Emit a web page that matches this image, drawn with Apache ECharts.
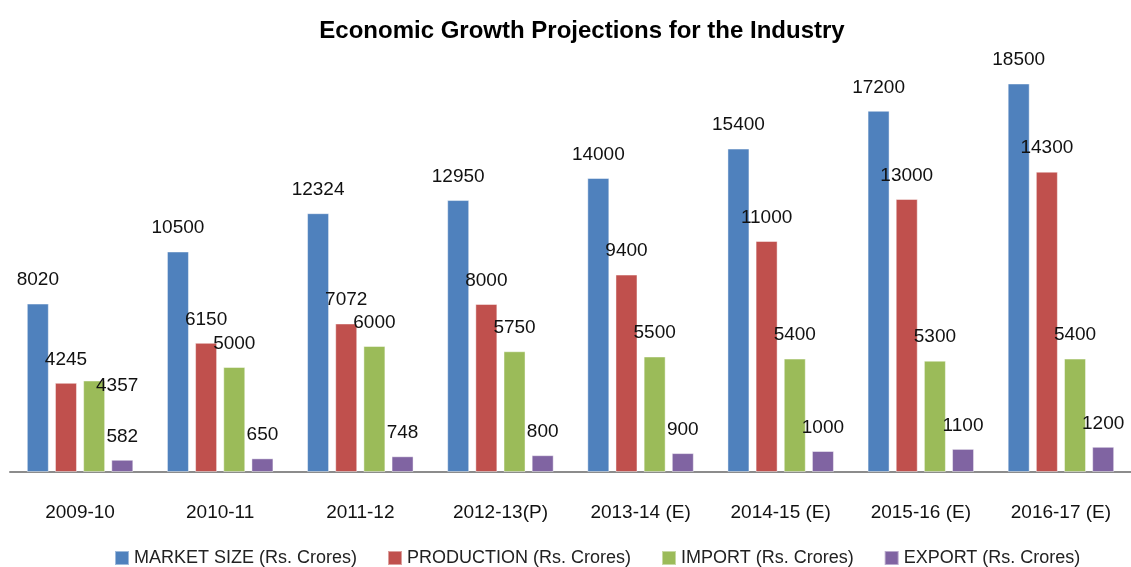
<!DOCTYPE html>
<html>
<head>
<meta charset="utf-8">
<script src="https://cdn.jsdelivr.net/npm/echarts@6/dist/echarts.min.js"></script>
<style>
  html, body { margin: 0; padding: 0; background: #fff; }
  #chart { width: 1131px; height: 567px; }
</style>
</head>
<body>
<div id="chart"></div>
<script>
// Fiscal years on the category axis
const years = ['2009-10', '2010-11', '2011-12', '2012-13(P)', '2013-14 (E)', '2014-15 (E)', '2015-16 (E)', '2016-17 (E)'];

// Values in Rs. Crores
const marketSize = [8020, 10500, 12324, 12950, 14000, 15400, 17200, 18500];
const production = [4245, 6150, 7072, 8000, 9400, 11000, 13000, 14300];
const imports    = [4357, 5000, 6000, 5750, 5500, 5400, 5300, 5400];
const exports    = [582, 650, 748, 800, 900, 1000, 1100, 1200];

const FONT = '"Liberation Sans Narrow", "Arial Narrow", "Liberation Sans", sans-serif';
const colors = ['#4F81BD', '#C0504D', '#9BBB59', '#8064A2'];

// A few labels are nudged aside so they don't collide with neighbours
const labelNudges = { IMPORT: { 0: [23, 29] } };

function makeSeries(name, values, color) {
  const key = name.split(' ')[0];
  const nudges = labelNudges[key] || {};
  return {
    name: name,
    type: 'bar',
    barWidth: 22,
    barGap: '28%',
    itemStyle: { color: color, borderColor: 'rgba(255,255,255,0.45)', borderWidth: 1 },
    label: {
      show: true,
      position: 'top',
      distance: 14,
      fontFamily: FONT,
      fontSize: 19,
      color: '#111'
    },
    data: values.map((v, i) => nudges[i] ? { value: v, label: { offset: nudges[i] } } : v)
  };
}

const chart = echarts.init(document.getElementById('chart'), null, { renderer: 'canvas' });
chart.setOption({
  animation: false,
  backgroundColor: '#fff',
  color: colors,
  title: {
    text: 'Economic Growth Projections for the Industry',
    left: 577,
    textAlign: 'center',
    top: 14,
    textStyle: { fontFamily: FONT, fontWeight: 'bold', fontSize: 24, color: '#000' }
  },
  legend: {
    left: 114,
    top: 549,
    padding: 0,
    itemWidth: 14,
    itemHeight: 14,
    itemGap: 30,
    icon: 'rect',
    textStyle: { fontFamily: FONT, fontSize: 18, color: '#222' },
    data: ['MARKET SIZE (Rs. Crores)', 'PRODUCTION (Rs. Crores)', 'IMPORT (Rs. Crores)', 'EXPORT (Rs. Crores)']
  },
  grid: { left: 10, right: -11, top: 52, bottom: 95, containLabel: false },
  xAxis: {
    type: 'category',
    data: years,
    axisLine: { show: true, lineStyle: { color: '#8c8c8c', width: 2 } },
    axisTick: { show: false },
    axisLabel: { fontFamily: FONT, fontSize: 19, color: '#111', margin: 31, interval: 0 }
  },
  yAxis: {
    type: 'value',
    min: 0,
    max: 20000,
    interval: 5000,
    show: false,
    splitLine: { show: false }
  },
  series: [
    makeSeries('MARKET SIZE (Rs. Crores)', marketSize, colors[0]),
    makeSeries('PRODUCTION (Rs. Crores)', production, colors[1]),
    makeSeries('IMPORT (Rs. Crores)', imports, colors[2]),
    makeSeries('EXPORT (Rs. Crores)', exports, colors[3])
  ]
});
</script>
</body>
</html>
